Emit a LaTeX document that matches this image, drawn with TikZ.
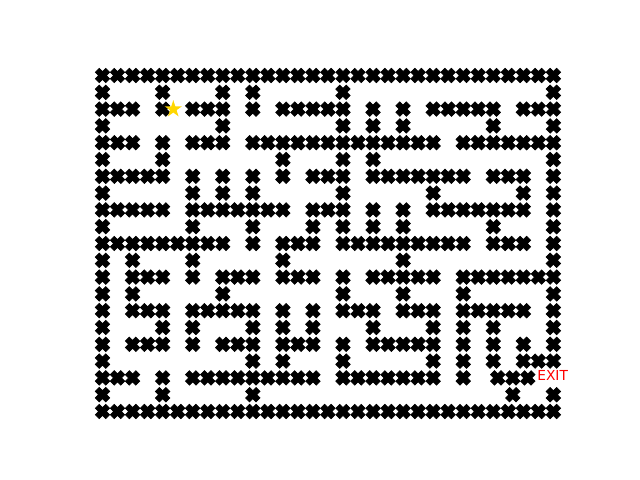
\documentclass[tikz,border=0pt]{standalone}
\usepackage{fontspec}
\setsansfont{DejaVu Sans}
\usepackage{tikz}
\usetikzlibrary{shapes.geometric}
\definecolor{gold}{HTML}{FFD700}
\tikzset{
  wall/.pic={
    \fill[black, draw=black, line width=0.5pt, rotate=45]
      (-0.07cm,-0.185cm) -- (0.07cm,-0.185cm) -- (0.07cm,-0.07cm) -- (0.185cm,-0.07cm)
      -- (0.185cm,0.07cm) -- (0.07cm,0.07cm) -- (0.07cm,0.185cm) -- (-0.07cm,0.185cm)
      -- (-0.07cm,0.07cm) -- (-0.185cm,0.07cm) -- (-0.185cm,-0.07cm) -- (-0.07cm,-0.07cm) -- cycle;
  },
  label text/.style={text=red, font=\sffamily\fontsize{9.8}{12}\selectfont, inner sep=0pt}
}

\begin{document}
\begin{tikzpicture}[x=0.37575cm, y=-0.42cm]

\useasboundingbox (-6.8197,-4.494) rectangle (35.762,24.077);

% Walls, row by row (column ranges)
\foreach \row/\segs in {
  0/{0/30},
  1/{0/0,4/4,8/8,10/10,16/16,30/30},
  2/{0/2,4/4,6/8,10/10,12/16,18/18,20/20,22/26,28/30},
  3/{0/0,8/8,16/16,18/18,20/20,26/26,30/30},
  4/{0/2,4/4,6/8,10/22,24/30},
  5/{0/0,4/4,12/12,16/16,18/18,30/30},
  6/{0/4,6/6,8/8,10/10,12/12,14/16,18/24,26/28,30/30},
  7/{0/0,6/6,8/8,10/10,16/16,22/22,28/28,30/30},
  8/{0/4,6/12,14/16,18/18,20/20,22/28,30/30},
  9/{0/0,6/6,10/10,14/14,16/16,18/18,20/20,26/26,30/30},
  10/{0/8,10/10,12/14,16/24,26/28,30/30},
  11/{0/0,2/2,6/6,12/12,20/20,30/30},
  12/{0/0,2/4,6/6,8/10,12/14,16/16,18/22,24/30},
  13/{0/0,2/2,8/8,16/16,20/20,24/24,30/30},
  14/{0/0,2/4,6/10,12/12,14/14,16/18,20/22,24/28,30/30},
  15/{0/0,4/4,6/6,10/10,12/12,14/14,18/18,22/22,24/24,26/26,30/30},
  16/{0/0,2/4,6/6,8/10,12/14,16/16,18/22,24/24,26/26,28/28,30/30},
  17/{0/0,10/10,12/12,16/16,22/22,24/24,26/26,28/30},
  18/{0/2,4/4,6/14,16/22,24/24},
  19/{0/0,4/4,10/10,30/30},
  20/{0/30}%
}{
  \foreach \a/\b in \segs {
    \foreach \col in {\a,...,\b} {
      \pic at (\col,\row) {wall};
    }
  }
}

% Walls next to the exit
\foreach \col in {26.3,27.3,28.3}
  \pic at (\col,18) {wall};
\pic at (27.3,19) {wall};

% Start and exit
\node[star, star points=5, star point ratio=2.618, fill=gold, inner sep=0pt, minimum size=0.45cm] (start) at (4.71,2) {};
\node[label text] (exit) at (29.95,17.87) {EXIT};

\end{tikzpicture}
\end{document}
